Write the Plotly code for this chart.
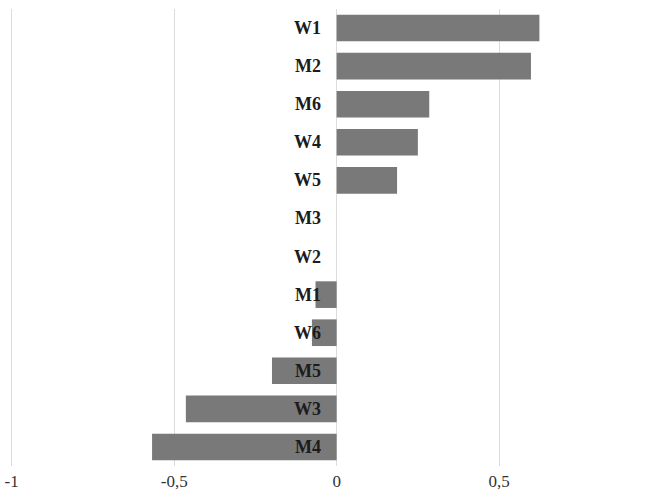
import plotly.graph_objects as go

# Items listed top to bottom, with their scores
categories = ["W1", "M2", "M6", "W4", "W5", "M3", "W2", "M1", "W6", "M5", "W3", "M4"]
scores = [0.624, 0.598, 0.285, 0.25, 0.186, 0.0, 0.0, -0.065, -0.076, -0.199, -0.464, -0.568]

tick_values = [-1, -0.5, 0, 0.5, 1]
tick_labels = ["-1", "-0,5", "0", "0,5", "1"]

serif = "Liberation Serif, Times New Roman, serif"

fig = go.Figure(
    go.Bar(
        x=scores,
        y=categories,
        orientation="h",
        marker=dict(color="#797979", line=dict(width=0)),
        hoverinfo="skip",
    )
)

# Item names sit just left of the zero line, right-aligned
for cat in categories:
    fig.add_annotation(
        x=0, y=cat, xref="x", yref="y",
        text=cat, showarrow=False,
        xanchor="right", yanchor="middle", xshift=-14,
        font=dict(family=serif, size=18, color="#1c1c1c", weight="bold"),
    )

fig.update_layout(
    width=658, height=493,
    margin=dict(l=0, r=0, t=9, b=27),
    plot_bgcolor="white", paper_bgcolor="white",
    bargap=0.3,
    showlegend=False,
    xaxis=dict(
        range=[-1.036, 0.989],
        tickvals=tick_values, ticktext=tick_labels,
        showgrid=True, gridcolor="#dcdcdc", gridwidth=1,
        zeroline=True, zerolinecolor="#dcdcdc", zerolinewidth=1,
        showline=False, ticks="",
        ticklabelstandoff=3,
        tickfont=dict(family=serif, size=17, color="#333333"),
    ),
    yaxis=dict(
        categoryorder="array", categoryarray=categories[::-1],
        range=[-0.5, len(categories) - 0.5],
        showticklabels=False, showgrid=False, zeroline=False, showline=False, ticks="",
    ),
)

fig.write_html("out.html")
